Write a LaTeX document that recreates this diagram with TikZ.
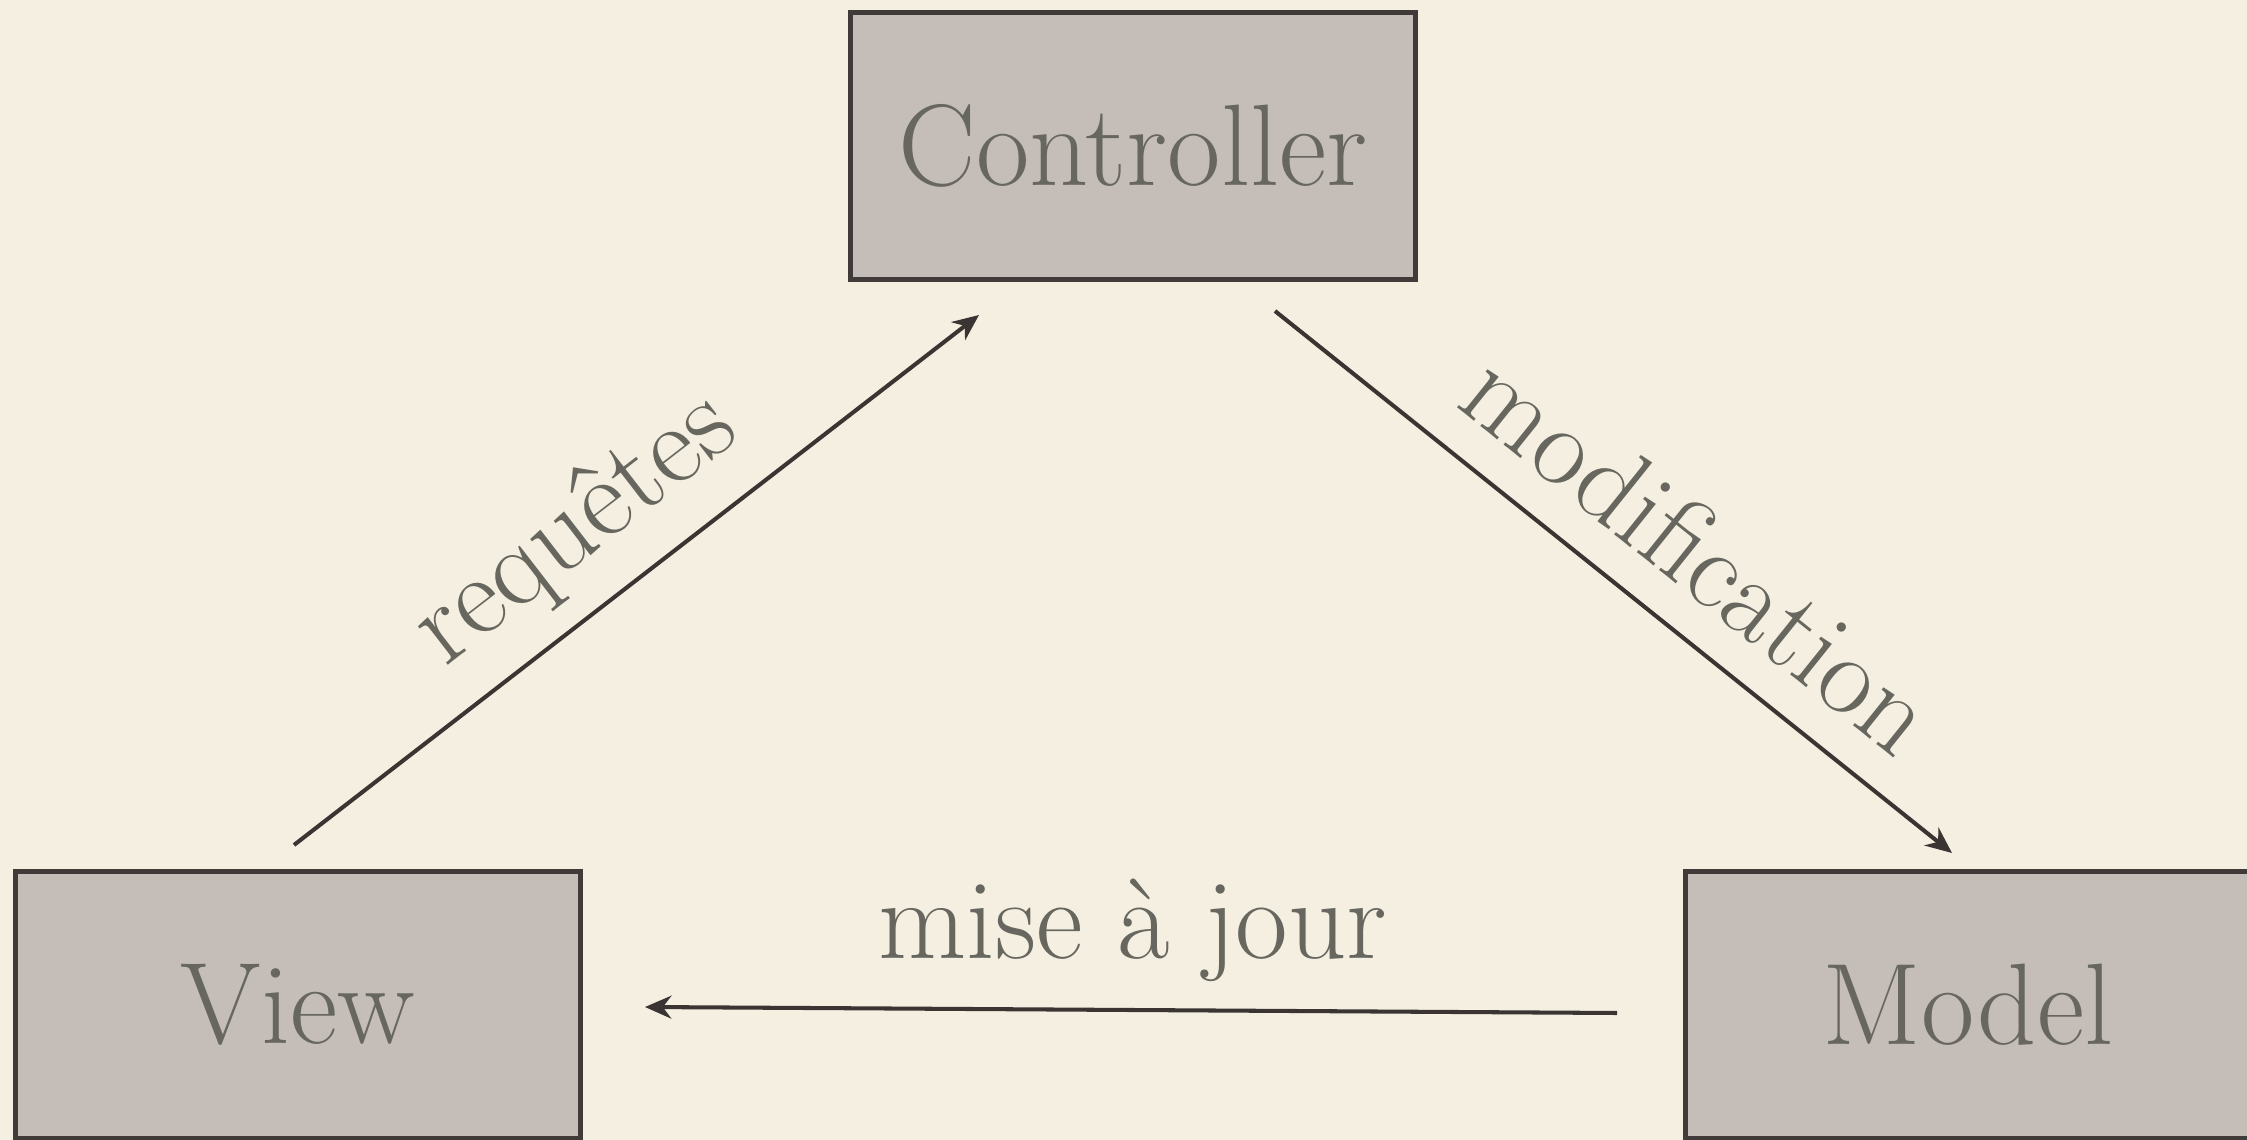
\documentclass[tikz,border=0pt]{standalone}
\usetikzlibrary{arrows.meta}
\definecolor{bgcol}{HTML}{F4EFE0}
\definecolor{boxfill}{HTML}{C4BDB8}
\definecolor{boxline}{HTML}{403B38}
\definecolor{txtcol}{HTML}{67675F}
\definecolor{arrcol}{HTML}{3A3533}
\begin{document}
\begin{tikzpicture}[x=0.01cm,y=-0.01cm,
  mvcbox/.style={draw=boxline,line width=1.4pt,fill=boxfill,rectangle,
    minimum width=5.64cm,minimum height=2.66cm,inner sep=0pt,
    text=txtcol,font=\fontsize{33}{38}\selectfont},
  lbl/.style={text=txtcol,font=\fontsize{32.5}{38}\selectfont,inner sep=0pt},
  conn/.style={draw=arrcol,line width=1.15pt,-{Stealth[length=7.5pt,width=6.5pt]}}]
\path[fill=bgcol,use as bounding box] (0,0) rectangle (2247,1140);
\node[mvcbox] (ctrl) at (1133,146) {Controller};
\node[mvcbox] (view) at (298,1005) {View};
\node[mvcbox] (model) at (1968,1005) {Model};
\coordinate (rq1) at (294,845);
\coordinate (rq2) at (979,315);
\coordinate (md1) at (1275,311);
\coordinate (md2) at (1952,853);
\coordinate (mj1) at (1617,1013);
\coordinate (mj2) at (645,1007);
\draw[conn] (rq1) -- (rq2);
\draw[conn] (md1) -- (md2);
\draw[conn] (mj1) -- (mj2);
\node[lbl,rotate=37.7] (lrq) at (576,530) {requêtes};
\node[lbl,rotate=-38.7] (lmd) at (1700,552) {modification};
\node[lbl] (lmj) at (1133,930) {mise à jour};
\end{tikzpicture}
\end{document}
